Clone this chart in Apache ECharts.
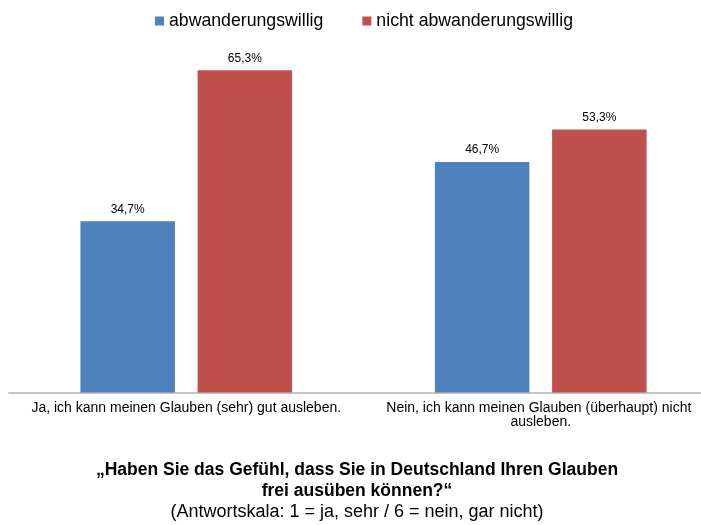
<!DOCTYPE html>
<html>
<head>
<meta charset="utf-8">
<script src="https://cdn.jsdelivr.net/npm/echarts@6/dist/echarts.min.js"></script>
<style>
  html, body { margin: 0; padding: 0; background: #fff; }
  #main { width: 701px; height: 525px; }
</style>
</head>
<body>
<div id="main"></div>
<script>
// Kategorien und Werte (in %)
var categories = ['Ja, ich kann meinen Glauben (sehr) gut ausleben.', 'Nein, ich kann meinen Glauben (überhaupt) nicht ausleben.'];
var seriesNames = ['abwanderungswillig', 'nicht abwanderungswillig'];
var abwanderungswillig = [34.7, 46.7];
var nichtAbwanderungswillig = [65.3, 53.3];

var titleText = '„Haben Sie das Gefühl, dass Sie in Deutschland Ihren Glauben\nfrei ausüben können?“';
var subText = '(Antwortskala: 1 = ja, sehr / 6 = nein, gar nicht)';

var font = 'Liberation Sans, Arial, sans-serif';

function pct(p) {
    return p.value.toFixed(1).replace('.', ',') + '%';
}

var myChart = echarts.init(document.getElementById('main'));
myChart.setOption({
    animation: false,
    title: {
        text: titleText,
        subtext: subText,
        left: 352,
        top: 455,
        textAlign: 'center',
        itemGap: 0,
        textStyle: { fontFamily: font, fontSize: 17.5, fontWeight: 'bold', color: '#000', lineHeight: 21 },
        subtextStyle: { fontFamily: font, fontSize: 18, color: '#000', lineHeight: 21 }
    },
    legend: {
        data: seriesNames,
        left: 155,
        top: 12,
        padding: 0,
        icon: 'rect',
        itemWidth: 9,
        itemHeight: 9,
        itemGap: 39,
        textStyle: { fontFamily: font, fontSize: 17.7, color: '#000' }
    },
    grid: {
        left: 9,
        width: 709,
        top: 47,
        bottom: 132.5,
        outerBoundsMode: 'none'
    },
    xAxis: {
        type: 'category',
        data: categories,
        axisLine: { lineStyle: { color: '#c4c4c4', width: 2 } },
        axisTick: { show: false },
        axisLabel: {
            interval: 0,
            margin: 9,
            width: 330,
            overflow: 'break',
            fontFamily: font,
            fontSize: 14,
            lineHeight: 13.5,
            color: '#000'
        }
    },
    yAxis: {
        type: 'value',
        min: 0,
        max: 70,
        show: false,
        splitLine: { show: false }
    },
    series: [
        {
            name: seriesNames[0],
            type: 'bar',
            data: abwanderungswillig,
            barWidth: 94.5,
            barGap: '24%',
            itemStyle: { color: '#4f81bd' },
            label: { show: true, position: 'top', distance: 6, formatter: pct, fontFamily: font, fontSize: 12, color: '#000' }
        },
        {
            name: seriesNames[1],
            type: 'bar',
            data: nichtAbwanderungswillig,
            barWidth: 94.5,
            itemStyle: { color: '#c0504d' },
            label: { show: true, position: 'top', distance: 6, formatter: pct, fontFamily: font, fontSize: 12, color: '#000' }
        }
    ]
});
</script>
</body>
</html>
